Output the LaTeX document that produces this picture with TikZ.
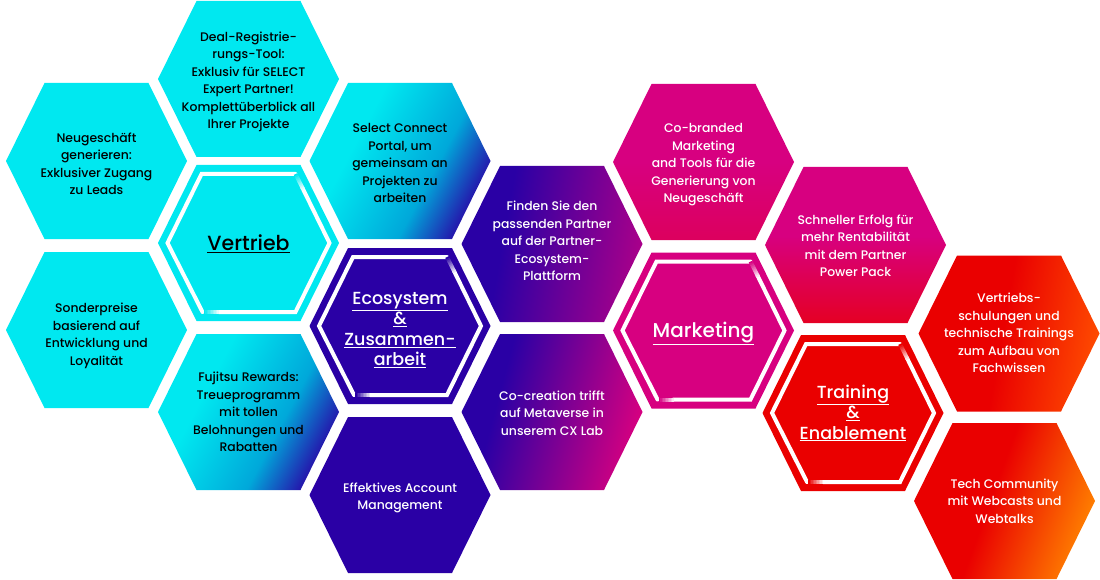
\documentclass[tikz,border=0pt]{standalone}
\usepackage{fontspec}
\setmainfont{Poppins Medium}
\definecolor{cellcyan}{HTML}{00E8F0}
\definecolor{cellsky}{HTML}{00A8DA}
\definecolor{cellblue}{HTML}{2A00A5}
\definecolor{cellpink}{HTML}{D70080}
\definecolor{cellred}{HTML}{EA0000}
\pgfdeclarehorizontalshading{cyanblue}{100bp}{color(0bp)=(cellcyan); color(36bp)=(cellcyan); color(60bp)=(cellsky); color(76bp)=(cellblue); color(100bp)=(cellblue)}
\pgfdeclarehorizontalshading{bluepurple}{100bp}{color(0bp)=(cellblue); color(36bp)=(cellblue); color(76bp)=(cellpink!75!cellblue); color(100bp)=(cellpink)}
\pgfdeclarehorizontalshading{bluepink}{100bp}{color(0bp)=(cellblue); color(34bp)=(cellblue); color(75bp)=(cellpink); color(100bp)=(cellpink)}
\pgfdeclarehorizontalshading{pinkrose}{100bp}{color(0bp)=(cellpink); color(50bp)=(cellpink); color(78bp)=(cellpink!70!cellred); color(100bp)=(cellpink!70!cellred)}
\pgfdeclarehorizontalshading{pinkred}{100bp}{color(0bp)=(cellpink); color(47bp)=(cellpink); color(78bp)=(cellpink!20!cellred); color(100bp)=(cellpink!20!cellred)}
\pgfdeclarehorizontalshading{redflame}{100bp}{color(0bp)=(cellred); color(48bp)=(cellred); color(76bp)=(orange!60!red); color(100bp)=(orange)}
\pgfdeclarehorizontalshading{redorange}{100bp}{color(0bp)=(cellred); color(46bp)=(cellred); color(75bp)=(orange); color(100bp)=(orange)}
\tikzset{
	celltext/.style={align=center, inner sep=0pt, font=\fontsize{12.4}{17.5}\selectfont},
	hubtext/.style={align=center, inner sep=0pt, font=\fontsize{17.5}{20.4}\selectfont},
	ringline/.style={draw=white, line width=4pt, line cap=round, line join=miter}
}
\newcommand{\hexpath}{(-52,-78) -- (52,-78) -- (90.5,0) -- (52,78) -- (-52,78) -- (-90.5,0) -- cycle}
% centre hexagon with the broken white ring
\newcommand{\hubcell}[6]{
	\begin{scope}[shift={(#2,#3)}]
		\fill[#4] \hexpath;
		\draw[ringline] (47,-69) -- (-47,-69) -- (-81,0) -- (-46,69);
		\draw[ringline] (54,-55) -- (81,0) -- (47,69) -- (-30,69);
		\foreach \k in {0,...,9}{
			\pgfmathsetmacro{\tone}{\k*10}
			\draw[ringline, line cap=butt, draw=white!\tone!#4] ({47+0.75*\k},{-69+1.5*\k}) -- ({47+0.75*\k+0.9},{-69+1.5*\k+1.8});
			\draw[ringline, line cap=butt, draw=white!\tone!#4] ({-45+1.5*\k},69) -- ({-45+1.5*\k+1.8},69);
		}
		\node[hubtext, #5] (#1) at (0,3) {#6};
	\end{scope}
}
\begin{document}
\begin{tikzpicture}[x=1pt, y=-1pt]
	\useasboundingbox (0,0) rectangle (1100,580);
	% Vertrieb
	\fill[cellcyan, shift={(248.5,79)}] \hexpath;
	\node[celltext] (dealtool) at (248.5,82) {Deal-Registrie-\\rungs-Tool:\\Exklusiv für SELECT\\Expert Partner!\\Komplettüberblick all\\Ihrer Projekte};
	\fill[cellcyan, shift={(96.5,161)}] \hexpath;
	\node[celltext] (neugeschaeft) at (96.5,164) {Neugeschäft\\generieren:\\Exklusiver Zugang\\zu Leads};
	\fill[cellcyan, shift={(96.5,330)}] \hexpath;
	\node[celltext] (sonderpreise) at (96.5,336) {Sonderpreise\\basierend auf\\Entwicklung und\\Loyalität};
	\shade[shading=cyanblue, shading angle=-28, shift={(400,161)}] \hexpath;
	\node[celltext] (selectportal) at (400,163) {Select Connect\\Portal, um\\gemeinsam an\\Projekten zu\\arbeiten};
	\shade[shading=cyanblue, shading angle=-28, shift={(248.5,412)}] \hexpath;
	\node[celltext] (rewards) at (248.5,412) {Fujitsu Rewards:\\Treueprogramm\\mit tollen\\Belohnungen und\\Rabatten};
	\hubcell{vertrieb}{248.5}{243}{cellcyan}{text=black, yshift=2pt}{\fontsize{20.5}{20.4}\selectfont\underline{Vertrieb}}
	% Ecosystem
	\hubcell{ecosystem}{400}{326}{cellblue}{text=white, yshift=-1pt}{\underline{Ecosystem}\\\underline{\&}\\\underline{Zusammen-}\\\underline{arbeit}}
	\fill[cellblue, shift={(400,495)}] \hexpath;
	\node[celltext, text=white] (account) at (400,498) {Effektives Account\\Management};
	\shade[shading=bluepurple, shading angle=-10, shift={(552,244)}] \hexpath;
	\node[celltext, text=white] (finden) at (552,241) {Finden Sie den\\passenden Partner\\auf der Partner-\\Ecosystem-\\Plattform};
	\shade[shading=bluepink, shading angle=-15, shift={(552,412)}] \hexpath;
	\node[celltext, text=white] (cocreation) at (552,413) {Co-creation trifft\\auf Metaverse in\\unserem CX Lab};
	% Marketing
	\shade[shading=pinkrose, shading angle=-90, shift={(703.5,162)}] \hexpath;
	\node[celltext, text=white] (cobranded) at (703.5,165) {Co-branded\\Marketing\\and Tools für die\\Generierung von\\Neugeschäft};
	\shade[shading=pinkred, shading angle=-90, shift={(855.5,245)}] \hexpath;
	\node[celltext, text=white] (powerpack) at (855.5,246) {Schneller Erfolg für\\mehr Rentabilität\\mit dem Partner\\Power Pack};
	\hubcell{marketing}{703.5}{330.5}{cellpink}{text=white}{\fontsize{20}{20.4}\selectfont\underline{Marketing}}
	% Training
	\hubcell{training}{853}{413}{cellred}{text=white, yshift=3pt}{\underline{Training}\\\underline{\&}\\\underline{Enablement}}
	\shade[shading=redflame, shading angle=-10, shift={(1009,333.5)}] \hexpath;
	\node[celltext, text=white] (schulungen) at (1009,333) {Vertriebs-\\schulungen und\\technische Trainings\\zum Aufbau von\\Fachwissen};
	\shade[shading=redorange, shading angle=-20, shift={(1004.5,501)}] \hexpath;
	\node[celltext, text=white] (community) at (1004.5,501) {Tech Community\\mit Webcasts und\\Webtalks};
\end{tikzpicture}
\end{document}
